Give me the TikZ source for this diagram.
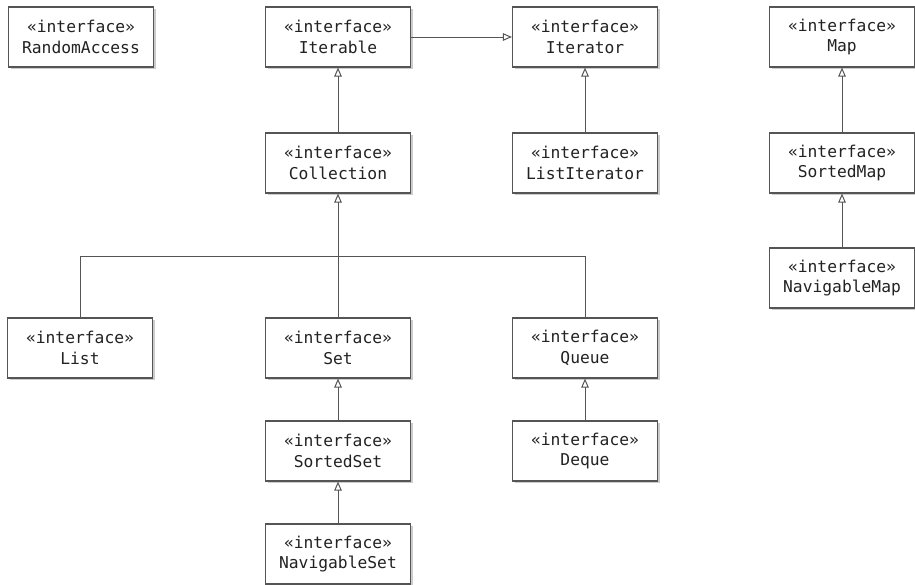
\documentclass[tikz,border=0pt]{standalone}
\usepackage{fontspec}
\setmonofont{DejaVu Sans Mono}
\usetikzlibrary{arrows.meta,shadows}
\definecolor{linegray}{HTML}{555555}
\definecolor{textgray}{HTML}{222222}
\begin{document}
\begin{tikzpicture}[x=1pt,y=-1pt,
  iface/.style={draw=linegray, line width=1.1pt, fill=white, minimum width=145pt, minimum height=60pt,
    align=center, inner sep=0pt, text=textgray,
    font=\ttfamily\fontsize{16.3}{20.5}\selectfont,
    drop shadow={shadow xshift=2pt, shadow yshift=-2pt, fill=gray, opacity=0.4}},
  conn/.style={draw=linegray, line width=1pt},
  gen/.style={conn, -{Triangle[open, length=9pt, width=7.5pt, line width=1pt]}}]
\useasboundingbox (0,0) rectangle (915,584);
\node[iface] (ra) at (81,37) {«interface»\\RandomAccess};
\node[iface] (iterable) at (338,37) {«interface»\\Iterable};
\node[iface] (iterator) at (585,37) {«interface»\\Iterator};
\node[iface] (map) at (842,37) {«interface»\\Map};
\node[iface] (coll) at (338,163) {«interface»\\Collection};
\node[iface] (listit) at (585,163) {«interface»\\ListIterator};
\node[iface] (smap) at (842,163) {«interface»\\SortedMap};
\node[iface] (nmap) at (842,278) {«interface»\\NavigableMap};
\node[iface] (list) at (80,348) {«interface»\\List};
\node[iface] (set) at (338,348) {«interface»\\Set};
\node[iface] (queue) at (585,348) {«interface»\\Queue};
\node[iface] (sset) at (338,451) {«interface»\\SortedSet};
\node[iface] (deque) at (585,451) {«interface»\\Deque};
\node[iface] (nset) at (338,554) {«interface»\\NavigableSet};
\coordinate (bus) at (338,256);
\draw[gen] (iterable) -- (iterator);
\draw[gen] (coll) -- (iterable);
\draw[gen] (listit) -- (iterator);
\draw[gen] (smap) -- (map);
\draw[gen] (nmap) -- (smap);
\draw[gen] (set) -- (coll);
\draw[conn] (list.north) -- (list.north |- bus) -- (queue.north |- bus) -- (queue.north);
\draw[gen] (sset) -- (set);
\draw[gen] (nset) -- (sset);
\draw[gen] (deque) -- (queue);
\end{tikzpicture}
\end{document}
